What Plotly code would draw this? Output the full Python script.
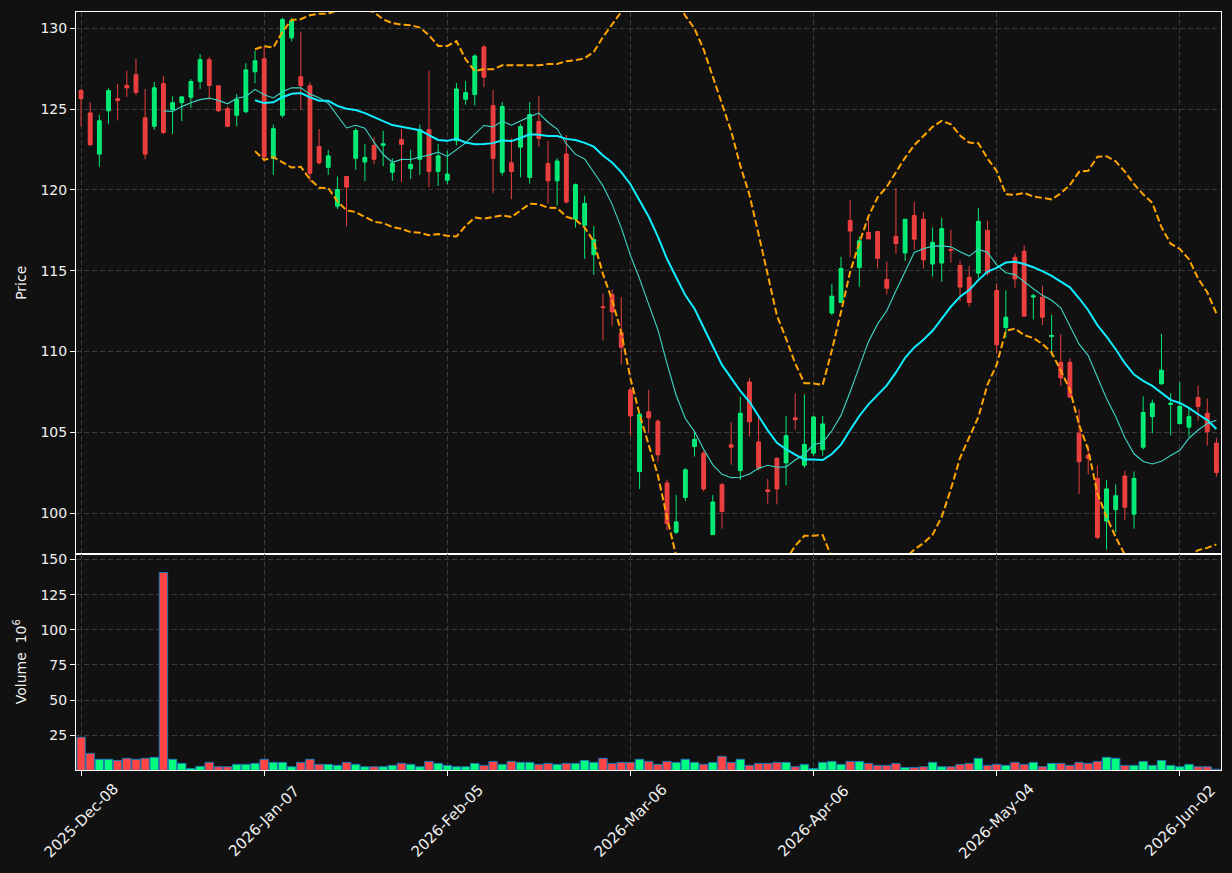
import pandas as pd
import plotly.graph_objects as go
from plotly.subplots import make_subplots

# ---------------- data ----------------
market_holidays = ["2025-12-25", "2026-01-01", "2026-01-19", "2026-02-16", "2026-04-03", "2026-05-25"]
dates = pd.bdate_range("2025-12-08", periods=125, freq="C", holidays=market_holidays)
date_labels = dates.strftime("%Y-%m-%d").tolist()

opens = [126.14, 124.76, 122.21, 124.89, 125.64, 126.46, 127.12, 124.46, 123.93, 126.57,
         124.96, 125.39, 125.73, 126.70, 128.05, 126.44, 125.02, 124.61, 124.83, 127.30,
         128.11, 121.95, 124.61, 129.40, 127.00, 126.44, 122.68, 121.39, 118.99, 120.82,
         121.95, 121.72, 122.75, 122.75, 121.09, 123.11, 121.31, 121.89, 123.72, 121.14,
         120.60, 123.03, 125.60, 125.90, 128.84, 125.21, 121.09, 121.67, 122.64, 120.77,
         124.23, 121.63, 120.56, 122.21, 118.18, 117.81, 115.99, 112.77, 113.52, 111.16,
         107.62, 102.58, 106.27, 105.69, 101.87, 98.82, 100.97, 104.12, 103.71, 98.67,
         101.76, 104.23, 102.64, 108.11, 104.40, 101.44, 103.39, 103.11, 105.90, 102.97,
         103.71, 103.93, 112.38, 113.03, 118.11, 115.19, 117.36, 117.42, 114.46, 117.12,
         116.09, 118.41, 118.18, 115.41, 115.47, 116.31, 115.32, 114.59, 114.85, 117.49,
         113.78, 111.48, 115.82, 116.20, 113.37, 113.35, 110.92, 109.33, 109.33, 104.94,
         103.58, 102.15, 99.51, 100.21, 102.30, 99.94, 104.08, 105.97, 108.00, 106.72,
         105.54, 105.32, 107.15, 106.18, 104.33]
highs = [126.24, 125.43, 124.64, 126.29, 126.55, 127.36, 128.11, 126.24, 126.67, 127.04,
         125.79, 125.75, 126.85, 128.39, 128.22, 126.44, 125.17, 125.92, 127.83, 128.61,
         128.86, 124.04, 130.64, 130.64, 129.79, 126.65, 123.76, 122.47, 120.82, 120.88,
         123.82, 122.85, 123.28, 123.65, 121.95, 123.76, 122.47, 124.04, 127.36, 122.85,
         122.42, 126.61, 126.72, 128.39, 128.97, 126.18, 125.43, 123.18, 124.08, 125.43,
         125.79, 123.03, 121.95, 123.39, 120.39, 119.64, 117.75, 113.58, 113.84, 113.37,
         107.77, 106.22, 107.63, 105.80, 102.08, 101.12, 102.79, 105.09, 103.86, 101.12,
         101.87, 105.62, 107.19, 108.37, 105.95, 102.11, 103.45, 106.01, 107.41, 107.35,
         106.01, 106.01, 114.17, 115.86, 119.38, 117.12, 118.14, 117.42, 115.56, 120.11,
         118.20, 119.25, 118.61, 117.67, 118.26, 117.53, 115.62, 115.30, 118.88, 118.09,
         114.21, 113.78, 116.05, 116.59, 113.57, 114.06, 112.27, 111.09, 109.59, 106.44,
         104.18, 102.96, 102.04, 101.78, 102.62, 102.58, 107.23, 107.02, 111.09, 107.41,
         108.10, 106.55, 107.88, 107.09, 104.66]
lows = [123.93, 122.70, 121.42, 124.08, 124.29, 125.75, 125.86, 121.89, 123.71, 123.45,
        123.45, 124.25, 125.06, 126.24, 125.54, 124.79, 123.87, 123.93, 124.74, 126.59,
        121.74, 120.92, 124.46, 129.18, 124.96, 120.49, 121.57, 120.92, 118.82, 117.75,
        121.24, 120.54, 121.57, 121.46, 120.56, 120.49, 120.67, 120.92, 120.17, 120.24,
        120.34, 122.75, 125.26, 125.21, 126.35, 119.81, 120.88, 119.42, 120.77, 120.39,
        122.68, 119.16, 119.03, 119.14, 117.66, 115.73, 114.74, 110.67, 111.59, 109.19,
        104.79, 101.50, 104.94, 103.18, 98.93, 98.71, 100.75, 103.50, 101.34, 98.67,
        99.04, 103.00, 102.04, 104.73, 102.64, 100.59, 100.54, 101.72, 105.16, 102.80,
        103.55, 103.55, 112.24, 112.99, 115.84, 114.00, 116.96, 115.13, 113.52, 116.05,
        115.60, 116.31, 115.13, 114.64, 114.31, 115.49, 113.09, 112.77, 114.54, 114.70,
        109.88, 110.84, 113.95, 112.13, 111.98, 111.64, 109.76, 107.88, 107.12, 101.19,
        102.40, 98.39, 97.75, 98.82, 99.57, 99.04, 103.94, 104.94, 107.95, 104.81,
        105.48, 104.73, 105.73, 104.19, 102.25]
closes = [125.64, 122.79, 124.27, 126.14, 125.52, 126.31, 126.03, 122.21, 126.31, 123.54,
          125.39, 125.75, 126.70, 128.05, 126.46, 124.89, 123.93, 125.58, 127.42, 127.98,
          122.04, 123.78, 130.54, 130.47, 126.44, 121.03, 121.67, 122.10, 120.02, 120.17,
          123.67, 122.00, 121.89, 122.85, 121.64, 122.81, 121.57, 123.72, 121.14, 122.10,
          120.97, 126.24, 126.01, 128.28, 126.97, 121.95, 125.15, 121.14, 123.91, 124.66,
          123.18, 120.56, 121.78, 119.25, 120.32, 119.16, 116.92, 112.72, 112.45, 110.26,
          106.01, 106.12, 105.90, 103.61, 99.36, 99.46, 102.68, 104.57, 101.50, 100.69,
          100.11, 104.08, 106.18, 105.65, 102.79, 101.34, 101.50, 104.79, 105.78, 104.25,
          105.95, 105.52, 113.42, 115.13, 117.45, 116.85, 116.96, 115.77, 113.91, 116.67,
          118.18, 116.95, 115.67, 116.75, 117.60, 116.25, 113.99, 113.03, 118.05, 114.87,
          110.41, 112.12, 114.49, 112.19, 113.45, 112.12, 110.99, 108.37, 107.19, 103.18,
          103.39, 98.50, 101.50, 101.08, 100.37, 102.15, 106.23, 106.80, 108.84, 106.80,
          106.60, 105.97, 106.59, 105.04, 102.51]
volumes_m = [23.6, 12.1, 7.9, 7.9, 7.1, 8.6, 7.9, 8.6, 9.3, 140.7,
             7.9, 5.0, 1.4, 2.9, 5.7, 2.6, 2.6, 4.3, 4.3, 5.0,
             7.9, 5.7, 5.7, 2.6, 5.7, 7.9, 4.3, 4.3, 3.6, 5.7,
             4.3, 2.6, 2.6, 2.6, 3.6, 5.0, 4.3, 2.6, 6.4, 5.0,
             3.6, 2.6, 2.6, 5.0, 3.6, 6.4, 4.3, 6.4, 5.7, 5.7,
             4.3, 5.0, 4.3, 5.0, 5.0, 7.1, 5.7, 8.6, 5.0, 5.7,
             5.7, 7.9, 6.4, 4.3, 6.4, 5.7, 7.9, 5.7, 4.3, 5.7,
             10.0, 5.7, 7.9, 3.6, 5.0, 5.0, 5.7, 5.7, 2.6, 4.3,
             1.4, 5.7, 6.4, 4.3, 6.4, 6.4, 5.0, 3.6, 3.6, 5.0,
             2.1, 2.1, 2.6, 5.7, 2.6, 2.6, 4.3, 5.0, 8.6, 3.6,
             4.3, 3.6, 5.7, 4.3, 5.7, 2.6, 5.0, 5.0, 3.6, 5.7,
             5.0, 6.4, 9.3, 8.6, 3.6, 3.6, 6.4, 3.6, 7.1, 3.6,
             2.6, 4.3, 2.6, 2.6, 0.8]

tick_positions = [0, 20, 40, 60, 80, 100, 120]
tick_labels = ["2025-Dec-08", "2026-Jan-07", "2026-Feb-05", "2026-Mar-06",
               "2026-Apr-06", "2026-May-04", "2026-Jun-02"]
price_ticks = [100, 105, 110, 115, 120, 125, 130]
volume_ticks = [25, 50, 75, 100, 125, 150]

# ---------------- indicators ----------------
close_s = pd.Series(closes)
ma10 = close_s.rolling(10).mean()
ma20 = close_s.rolling(20).mean()
sd20 = close_s.rolling(20).std()
bb_up = ma20 + 2 * sd20
bb_lo = ma20 - 2 * sd20

# ---------------- style ----------------
BG = "#111111"
GRID = "#3a3a3a"
UP_VOL = "#00ff7f"
DN_VOL = "#ff4444"
UP_C = "rgba(0,255,127,0.9)"
DN_C = "rgba(255,68,68,0.9)"
TXT = "#f0f0f0"

fig = make_subplots(rows=2, cols=1, shared_xaxes=True, vertical_spacing=0,
                    row_heights=[543 / 760, 217 / 760])

fig.add_trace(go.Candlestick(
    x=date_labels, open=opens, high=highs, low=lows, close=closes,
    increasing=dict(line=dict(color=UP_C, width=1), fillcolor=UP_C),
    decreasing=dict(line=dict(color=DN_C, width=1), fillcolor=DN_C),
    whiskerwidth=0, showlegend=False, name="OHLC"), row=1, col=1)

fig.add_trace(go.Scatter(x=date_labels, y=ma10, mode="lines",
                         line=dict(color="#3fd6c6", width=1.1), showlegend=False), row=1, col=1)
fig.add_trace(go.Scatter(x=date_labels, y=ma20, mode="lines",
                         line=dict(color="#10eeff", width=2), showlegend=False), row=1, col=1)
for band in (bb_up, bb_lo):
    fig.add_trace(go.Scatter(x=date_labels, y=band, mode="lines",
                             line=dict(color="#ffa500", width=2, dash="7px,3px"),
                             showlegend=False), row=1, col=1)

vol_colors = [UP_VOL if c >= o else DN_VOL for o, c in zip(opens, closes)]
fig.add_trace(go.Bar(x=date_labels, y=volumes_m, width=0.92,
                     marker=dict(color=vol_colors, line=dict(color="#1f77b4", width=1)),
                     showlegend=False), row=2, col=1)

axis_common = dict(showline=True, linecolor="white", linewidth=1, mirror=True,
                   showgrid=True, gridcolor=GRID, griddash="5px,3px", gridwidth=1,
                   zeroline=False, tickfont=dict(color=TXT, size=14),
                   ticks="outside", ticklen=5, tickcolor="white")

fig.update_xaxes(type="category", range=[-0.55, 124.5],
                 tickvals=[date_labels[i] for i in tick_positions],
                 showticklabels=False, rangeslider_visible=False, **axis_common)
fig.update_xaxes(ticks="", row=1, col=1)

# rotated, centred tick labels (matplotlib-like placement)
for pos, lab in zip(tick_positions, tick_labels):
    fig.add_annotation(x=date_labels[pos], y=0, xref="x2", yref="paper",
                       text=lab, textangle=-45, showarrow=False,
                       xanchor="center", yanchor="middle", yshift=-51,
                       font=dict(color=TXT, size=15, family="DejaVu Sans"))

fig.update_yaxes(range=[97.5, 131.0], tickvals=price_ticks,
                 title=dict(text="Price", font=dict(color=TXT, size=14), standoff=10),
                 row=1, col=1, **axis_common)
fig.update_yaxes(range=[0.3, 154.2], tickvals=volume_ticks,
                 title=dict(text="Volume  10<sup>6</sup>", font=dict(color=TXT, size=14), standoff=10),
                 row=2, col=1, **axis_common)

fig.update_layout(width=1232, height=873, paper_bgcolor=BG, plot_bgcolor=BG,
                  margin=dict(l=76, r=11, t=10, b=103), boxgap=0.4,
                  font=dict(family="DejaVu Sans", color=TXT, size=14),
                  showlegend=False, hovermode=False)

fig.write_html("out.html")
